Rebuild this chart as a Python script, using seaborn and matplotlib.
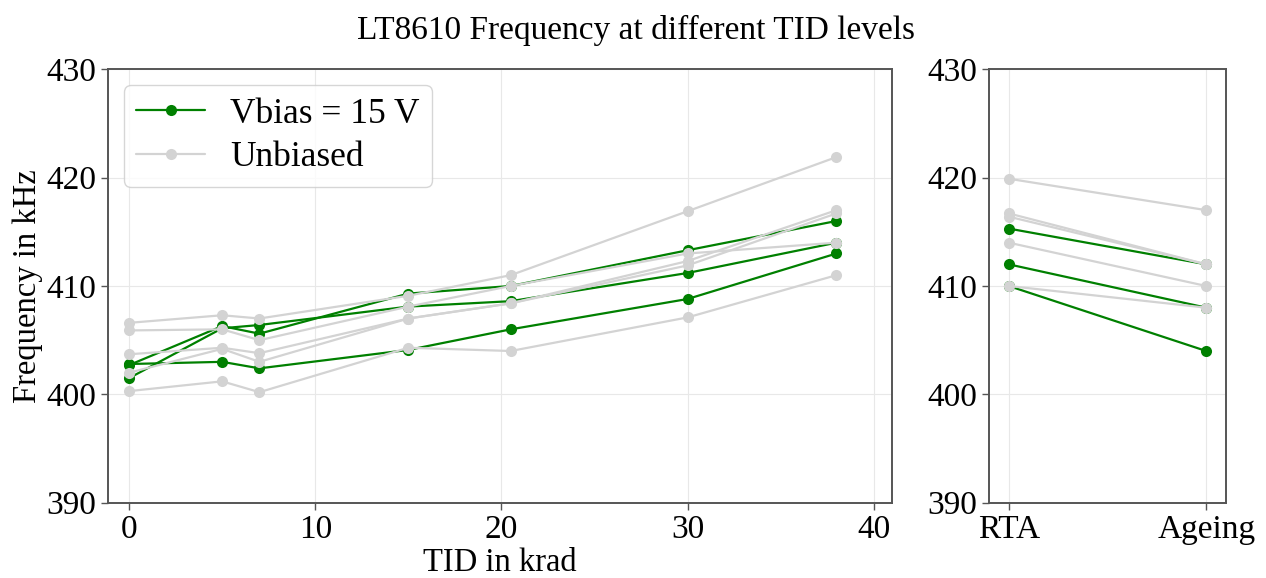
import matplotlib
matplotlib.use("Agg")
import matplotlib.pyplot as plt
import seaborn as sns
import pandas as pd

# ---- data ----
tid = [0, 5, 7, 15, 20.5, 30, 38]
vbias_1 = [402.8, 403.0, 402.4, 404.1, 406.0, 408.8, 413.0]
vbias_2 = [402.7, 406.3, 405.6, 409.3, 410.0, 413.3, 416.0]
vbias_3 = [401.5, 406.1, 406.4, 408.1, 408.6, 411.2, 414.0]
unbiased_1 = [406.6, 407.3, 407.0, 409.1, 411.0, 416.9, 421.9]
unbiased_2 = [405.9, 406.0, 405.0, 408.1, 410.0, 413.0, 414.0]
unbiased_3 = [403.7, 404.3, 403.8, 407.0, 408.4, 412.3, 417.0]
unbiased_4 = [402.0, 404.2, 403.0, 407.0, 408.4, 411.9, 416.7]
unbiased_5 = [400.3, 401.2, 400.2, 404.3, 404.0, 407.1, 411.0]

stages = ["RTA", "Ageing"]
stage_vbias_1 = [415.3, 412.0]
stage_vbias_2 = [412.0, 408.0]
stage_vbias_3 = [410.0, 404.0]
stage_unbiased_1 = [419.9, 417.0]
stage_unbiased_2 = [416.7, 412.0]
stage_unbiased_3 = [416.4, 412.0]
stage_unbiased_4 = [414.0, 410.0]
stage_unbiased_5 = [410.0, 408.0]

labels = ["Vbias = 15 V", "Unbiased"]
yticks = [390, 400, 410, 420, 430]
xticks = [0, 10, 20, 30, 40]

# ---- build long tables ----
rows = []
for i, s in enumerate([vbias_1, vbias_2, vbias_3]):
    for x, v in zip(tid, s):
        rows.append({"TID": x, "f": v, "cond": labels[0], "unit": f"b{i}"})
for i, s in enumerate([unbiased_1, unbiased_2, unbiased_3, unbiased_4, unbiased_5]):
    for x, v in zip(tid, s):
        rows.append({"TID": x, "f": v, "cond": labels[1], "unit": f"u{i}"})
df = pd.DataFrame(rows)

rows2 = []
for i, s in enumerate([stage_vbias_1, stage_vbias_2, stage_vbias_3]):
    for k, v in enumerate(s):
        rows2.append({"stage": k, "f": v, "cond": labels[0], "unit": f"b{i}"})
for i, s in enumerate([stage_unbiased_1, stage_unbiased_2, stage_unbiased_3,
                       stage_unbiased_4, stage_unbiased_5]):
    for k, v in enumerate(s):
        rows2.append({"stage": k, "f": v, "cond": labels[1], "unit": f"u{i}"})
df2 = pd.DataFrame(rows2)

# ---- style ----
sns.set_style("whitegrid", {
    "axes.edgecolor": "#555555",
    "grid.color": "#e8e8e8",
    "xtick.bottom": True,
    "ytick.left": True,
    "xtick.color": "#555555",
    "ytick.color": "#555555",
    "text.color": "black",
    "axes.labelcolor": "black",
})
plt.rcParams["font.family"] = ["Liberation Serif", "DejaVu Serif"]
plt.rcParams["xtick.major.size"] = 5
plt.rcParams["ytick.major.size"] = 5
plt.rcParams["xtick.labelcolor"] = "black"
plt.rcParams["ytick.labelcolor"] = "black"

palette = {labels[0]: "green", labels[1]: "lightgray"}

fig = plt.figure(figsize=(12.66, 5.78), dpi=100)
ax1 = fig.add_axes([107.7 / 1266, (578 - 502.7) / 578, 784.6 / 1266, 433.4 / 578])
ax2 = fig.add_axes([989 / 1266, (578 - 502.7) / 578, 237 / 1266, 433.4 / 578])

common = dict(y="f", hue="cond", units="unit", estimator=None, hue_order=labels,
              palette=palette, marker="o", markersize=8, markeredgewidth=0,
              linewidth=1.6)
sns.lineplot(data=df, x="TID", ax=ax1, **common)
sns.lineplot(data=df2, x="stage", ax=ax2, legend=False, **common)

for ax in (ax1, ax2):
    ax.set_ylim(390, 430)
    ax.set_yticks(yticks)
    ax.tick_params(labelsize=24, width=1.0, length=5)
    ax.set_ylabel("")
    ax.set_xlabel("")
    for sp in ax.spines.values():
        sp.set_linewidth(1.4)

ax1.set_xlim(-1.15, 41.0)
ax1.set_xticks(xticks)
ax1.set_xlabel("TID in krad", fontsize=23.5, labelpad=2)
ax1.set_ylabel("Frequency in kHz", fontsize=23.5, labelpad=2)

ax2.set_xlim(-0.1, 1.1)
ax2.set_xticks(range(len(stages)), stages)

handles, labs = ax1.get_legend_handles_labels()
ax1.legend(handles, labs, loc="upper left", fontsize=25.5, frameon=True,
           borderpad=0.35, handlelength=1.95, handletextpad=0.7, labelspacing=0.3,
           bbox_to_anchor=(0.0, 1.0), borderaxespad=0.45)

fig.suptitle("LT8610 Frequency at different TID levels", fontsize=24, x=0.5025, y=0.975)

fig.savefig("out.png", dpi=100)
